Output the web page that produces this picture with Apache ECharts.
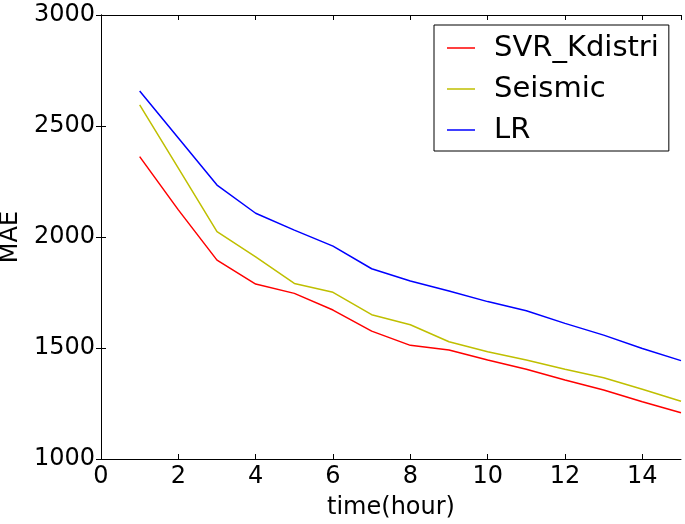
<!DOCTYPE html>
<html>
<head>
<meta charset="utf-8">
<script src="https://cdn.jsdelivr.net/npm/echarts@6/dist/echarts.min.js"></script>
<style>
    html, body { margin: 0; padding: 0; background: #fff; }
    #chart { width: 685px; height: 524px; }
</style>
</head>
<body>
<div id="chart"></div>
<script>
    // values
    var hours = [1, 2, 3, 4, 5, 6, 7, 8, 9, 10, 11, 12, 13, 14, 15];
    var svrKdistri = [2362, 2122, 1896, 1788, 1746, 1671, 1576, 1512, 1491, 1446, 1404, 1356, 1311, 1258, 1208];
    var seismic = [2595, 2310, 2024, 1910, 1791, 1751, 1650, 1605, 1528, 1483, 1446, 1404, 1366, 1314, 1260];
    var lr = [2658, 2446, 2234, 2107, 2031, 1959, 1857, 1802, 1757, 1709, 1668, 1611, 1558, 1498, 1443];

    var seriesNames = ['SVR_Kdistri', 'Seismic', 'LR'];
    var seriesColors = ['#ff0000', '#bfbf00', '#0000ff'];
    var seriesValues = [svrKdistri, seismic, lr];

    var font = 'DejaVu Sans';

    function pairs(values) {
        let out = [];
        for (let i = 0; i < hours.length; i++) {
            out.push([hours[i], values[i]]);
        }
        return out;
    }

    function frameAxis(extra) {
        let base = {
            type: 'value',
            axisLine: { show: true, lineStyle: { color: '#000', width: 1 } },
            axisTick: { show: true, inside: true, length: 5, lineStyle: { color: '#000' } },
            splitLine: { show: false },
            axisLabel: { show: false }
        };
        return Object.assign(base, extra);
    }

    var chart = echarts.init(document.getElementById('chart'));

    chart.setOption({
        animation: false,
        textStyle: { fontFamily: font },
        grid: { left: 101, right: 4, top: 15, bottom: 65, containLabel: false, outerBoundsMode: 'none' },
        legend: {
            data: seriesNames.map(function (n) { return { name: n, icon: 'rect' }; }),
            orient: 'vertical',
            left: 434,
            top: 25,
            itemWidth: 28,
            itemHeight: 1.5,
            itemGap: 11,
            padding: [8, 10, 6, 13],
            borderColor: '#000',
            borderWidth: 1,
            textStyle: { fontFamily: font, fontSize: 29, color: '#000', lineHeight: 30, padding: [0, 0, 0, 14] }
        },
        xAxis: [
            frameAxis({
                min: 0, max: 15, interval: 2,
                name: 'time(hour)',
                nameLocation: 'middle',
                nameGap: 37,
                nameTextStyle: { fontFamily: font, fontSize: 24, color: '#000' },
                axisLabel: { show: true, showMaxLabel: false, margin: 6, fontFamily: font, fontSize: 24, color: '#000',
                    formatter: function (v) { return String(v); } }
            }),
            frameAxis({ min: 0, max: 15, interval: 2, position: 'top' })
        ],
        yAxis: [
            frameAxis({
                min: 1000, max: 3000, interval: 500,
                name: 'MAE',
                nameLocation: 'middle',
                nameGap: 75,
                nameTextStyle: { fontFamily: font, fontSize: 24, color: '#000' },
                axisLabel: { show: true, margin: 6, fontFamily: font, fontSize: 24, color: '#000',
                    formatter: function (v) { return String(v); } }
            }),
            frameAxis({ min: 1000, max: 3000, interval: 500, position: 'right' })
        ],
        series: seriesNames.map(function (name, i) {
            return {
                name: name,
                type: 'line',
                data: pairs(seriesValues[i]),
                showSymbol: false,
                color: seriesColors[i],
                lineStyle: { color: seriesColors[i], width: 1.5 }
            };
        })
    });
</script>
</body>
</html>
